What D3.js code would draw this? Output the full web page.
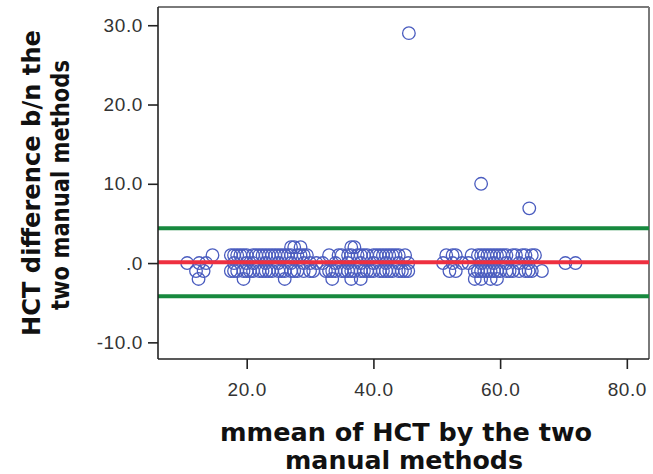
<!DOCTYPE html>
<html><head><meta charset="utf-8">
<script src="https://cdn.jsdelivr.net/npm/d3@7"></script>
<style>body{margin:0;background:#fff}svg{display:block}</style>
</head><body><svg id="c" width="653" height="474"></svg>
<script>
// Data: [mean of HCT, difference]
const clusterA = [[10.6,0],[12.0,-1],[12.4,-2],[12.5,0],[13.2,-1],[13.6,0],[14.6,1]];
const clusterB = [
 [17.5,1],[18,1],[18.5,1],[19,1],[19.5,1],[20,1],[21,1],[21.5,1],[22,1],[22.5,1],[23,1],[23.5,1],[24,1],[24.5,1],[25,1],[25.5,1],[26,1],[26.5,1],[27,1],[28,1],[28.5,1],[29,1],[29.5,1],
 [17.5,-1],[18,-1],[18.5,-1],[19.5,-1],[20,-1],[20.5,-1],[21,-1],[22,-1],[22.5,-1],[23,-1],[23.5,-1],[24,-1],[25,-1],[25.5,-1],[26,-1],[27,-1],[27.5,-1],[28,-1],[29,-1],[30,-1],[30.5,-1],
 [18,0],[20,0],[21,0],[23,0],[25,0],[27,0],[29,0],[30,0],[31,0],
 [27,2],[27.5,2],[28.5,2],[19.5,-2],[26,-2]];
const clusterC = [
 [33,1],[34.5,1],[35,1],[36,1],[36.5,1],[37.5,1],[38,1],[38.5,1],[39,1],[40,1],[40.5,1],[41,1],[41.5,1],[42,1],[42.5,1],[43,1],[43.5,1],[44,1],[45,1],
 [32.5,-1],[33,-1],[33.5,-1],[34,-1],[35,-1],[35.5,-1],[36,-1],[36.5,-1],[37,-1],[38,-1],[38.5,-1],[39,-1],[39.5,-1],[40,-1],[41,-1],[41.5,-1],[42,-1],[42.5,-1],[43,-1],[44,-1],[44.5,-1],[45,-1],[45.5,-1],
 [32,0],[34,0],[36,0],[38,0],[40,0],[42,0],[44,0],[45.5,0],
 [36.5,2],[37,2],[33.5,-2],[36.5,-2],[38,-2]];
const clusterD = [
 [51.5,1],[52.5,1],[53,1],[55.5,1],[56.5,1],[57,1],[57.5,1],[58,1],[58.5,1],[59,1],[59.5,1],[60,1],[60.5,1],[61,1],[62,1],[62.5,1],[63.5,1],[64,1],[65,1],[65.5,1],
 [52,-1],[53,-1],[56,-1],[56.5,-1],[57,-1],[57.5,-1],[58,-1],[58.5,-1],[59,-1],[59.5,-1],[60,-1],[61,-1],[61.5,-1],[62,-1],[63,-1],[64,-1],[64.5,-1],[65,-1],[66.6,-1],
 [51,0],[52.5,0],[54,0],[55,0],[57,0],[59,0],[61,0],[63,0],[64.5,0],
 [56,-2],[57,-2],[58.5,-2],[59.5,-2]];
const clusterE = [[70.3,0],[71.9,0]];
const outliers = [[45.6,29],[57.0,10],[64.6,6.9]];
const meanDiff = 0.1;
const upperLoA = 4.4;
const lowerLoA = -4.2;
const xTicks = [20,40,60,80];
const yTicks = [-10,0,10,20,30];
const xTitle = ["mmean of HCT by the two","manual methods"];
const yTitle = ["HCT difference b/n the","two manual methods"];

const points = [].concat(clusterA, clusterB, clusterC, clusterD, clusterE, outliers);

const svg = d3.select("#c");
const L = 158, R = 649, T = 7, B = 359;
const x = d3.scaleLinear().domain([6.0, 83.5]).range([L, R]);
const y = d3.scaleLinear().domain([-12.1, 32.3]).range([B, T]);

const fmt = v => v === 0 ? ".0" : v.toFixed(1);

// frame top/right
svg.append("line").attr("x1",L).attr("x2",R).attr("y1",T).attr("y2",T).attr("stroke","#7a7a7a").attr("stroke-width",2);
svg.append("line").attr("x1",R).attr("x2",R).attr("y1",T).attr("y2",B).attr("stroke","#7a7a7a").attr("stroke-width",2);

// points
svg.append("g").selectAll("circle").data(points).join("circle")
  .attr("cx", d => x(d[0])).attr("cy", d => y(d[1])).attr("r", 6.3)
  .attr("fill","none").attr("stroke","#4a5cbf").attr("stroke-width",1.3);

// reference lines
[[upperLoA,"#17893e"],[lowerLoA,"#17893e"],[meanDiff,"#ee3040"]].forEach(([v,c]) => {
  svg.append("line").attr("x1",L).attr("x2",R).attr("y1",y(v)).attr("y2",y(v))
    .attr("stroke",c).attr("stroke-width",4);
});

// axes
const xAxis = svg.append("g").attr("transform",`translate(0,${B})`)
  .call(d3.axisBottom(x).tickValues(xTicks).tickFormat(fmt).tickSize(10).tickPadding(14));
const yAxis = svg.append("g").attr("transform",`translate(${L},0)`)
  .call(d3.axisLeft(y).tickValues(yTicks).tickFormat(fmt).tickSize(10).tickPadding(5));
[xAxis,yAxis].forEach(g => {
  g.select(".domain").attr("stroke","#222").attr("stroke-width",1.6);
  g.selectAll(".tick line").attr("stroke","#222").attr("stroke-width",1.6);
  g.selectAll(".tick text").attr("fill","#333").style("font-family","'Liberation Sans', Arial, sans-serif")
    .style("font-size","19px").style("letter-spacing","0.6px");
});
xAxis.select(".domain").attr("d",`M${L},0H${R}`);
yAxis.select(".domain").attr("d",`M0,${T}V${B}`);

// titles
const tf = "'DejaVu Sans', Verdana, sans-serif";
const tstyle = s => s.style("font-family",tf).style("font-weight","bold").style("font-size","24.5px").attr("fill","#111")
  .attr("lengthAdjust","spacingAndGlyphs");
svg.append("text").attr("x",406).attr("y",441).attr("text-anchor","middle").call(tstyle).attr("textLength",372).text(xTitle[0]);
svg.append("text").attr("x",404).attr("y",469).attr("text-anchor","middle").call(tstyle).attr("textLength",238).text(xTitle[1]);
const yt = svg.append("g").attr("transform","translate(0,183) rotate(-90)");
yt.append("text").attr("x",0).attr("y",40).attr("text-anchor","middle").call(tstyle).attr("textLength",306).text(yTitle[0]);
yt.append("text").attr("x",-2).attr("y",69).attr("text-anchor","middle").call(tstyle).attr("textLength",250).text(yTitle[1]);
</script></body></html>
